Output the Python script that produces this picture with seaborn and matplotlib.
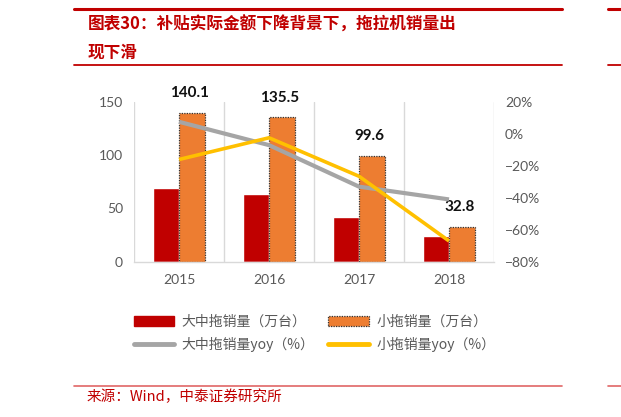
import numpy as np
import pandas as pd
import matplotlib
matplotlib.use("Agg")
import matplotlib.pyplot as plt
from matplotlib.patches import Patch
from matplotlib.lines import Line2D
from matplotlib.ticker import FixedLocator, PercentFormatter
import seaborn as sns

# data
years = ["2015", "2016", "2017", "2018"]
big_sales = [69.0, 63.5, 42.0, 24.5]        # 大中拖销量（万台）
small_sales = [140.1, 135.5, 99.6, 32.8]    # 小拖销量（万台）
big_yoy = [0.076, -0.07, -0.33, -0.41]      # 大中拖销量yoy
small_yoy = [-0.16, -0.024, -0.265, -0.67]  # 小拖销量yoy
series_names = ["大中拖销量（万台）", "小拖销量（万台）",
                "大中拖销量yoy（%）", "小拖销量yoy（%）"]

red = "#C00000"
orange = "#ED7D31"
gray = "#A5A5A5"
yellow = "#FFC000"
txt_gray = "#595959"
title_red = "#C00000"

sns.set_theme(style="white")
plt.rcParams["font.family"] = ["Noto Sans CJK SC", "DejaVu Sans"]

df = pd.DataFrame({
    "year": years * 2,
    "value": big_sales + small_sales,
    "series": [series_names[0]] * len(years) + [series_names[1]] * len(years),
})

fig = plt.figure(figsize=(6.21, 4.17), dpi=100)
ax = fig.add_axes([0.2158, 0.3724, 0.5797, 0.383])

sns.barplot(data=df, x="year", y="value", hue="series", order=years,
            hue_order=series_names[:2], palette=[red, orange], width=0.58,
            saturation=1, legend=False, ax=ax, zorder=2)

# dotted outline on the small-tractor bars
for bar in ax.containers[1]:
    bar.set_edgecolor("#333333")
    bar.set_linestyle((0, (1, 1)))
    bar.set_linewidth(0.9)

# value labels above the orange bars
for bar, v in zip(ax.containers[1], small_sales):
    ax.annotate(f"{v:.1f}", (bar.get_x() + bar.get_width() / 2, v),
                xytext=(-2, 14), textcoords="offset points", ha="center",
                va="center", fontsize=11, fontweight="bold", color="#111111",
                family=["Lato", "DejaVu Sans"], zorder=10)

ax.set_ylim(0, 150)
ax.set_yticks([0, 50, 100, 150])
ax.set_xlim(-0.5, len(years) - 0.5)
ax.set_xlabel("")
ax.set_ylabel("")
ax.xaxis.set_minor_locator(FixedLocator(np.arange(len(years) + 1) - 0.5))
ax.grid(which="minor", axis="x", color="#D9D9D9", linewidth=1)
ax.grid(which="major", visible=False)
ax.tick_params(axis="both", which="both", length=0)
ax.tick_params(axis="y", pad=8, labelsize=10, labelcolor=txt_gray)
ax.tick_params(axis="x", pad=9, labelsize=10, labelcolor=txt_gray)
for lab in ax.get_xticklabels() + ax.get_yticklabels():
    lab.set_family(["Lato", "DejaVu Sans"])
for s in ["left", "right", "top"]:
    ax.spines[s].set_visible(False)
ax.spines["bottom"].set_color("#D9D9D9")
ax.spines["bottom"].set_linewidth(1)

# yoy lines on the right axis
ax2 = ax.twinx()
xpos = np.arange(len(years))
sns.lineplot(x=xpos, y=big_yoy, ax=ax2, color=gray, linewidth=3,
             legend=False, solid_capstyle="butt")
sns.lineplot(x=xpos, y=small_yoy, ax=ax2, color=yellow, linewidth=2.6,
             legend=False, solid_capstyle="butt")
ax2.set_ylim(-0.8, 0.2)
ax2.set_yticks([-0.8, -0.6, -0.4, -0.2, 0.0, 0.2])
ax2.yaxis.set_major_formatter(PercentFormatter(1.0, decimals=0))
ax2.tick_params(axis="y", length=0, pad=8, labelsize=10, labelcolor=txt_gray)
for lab in ax2.get_yticklabels():
    lab.set_family(["Lato", "DejaVu Sans"])
ax2.grid(False)
for s in ax2.spines.values():
    s.set_visible(False)
ax2.set_xlim(-0.5, len(years) - 0.5)

# legend below the chart
handles = [
    Patch(facecolor=red, edgecolor=red),
    Line2D([], [], color=gray, linewidth=3.5, solid_capstyle="round"),
    Patch(facecolor=orange, edgecolor="#333333", linestyle=(0, (1, 1)), linewidth=0.9),
    Line2D([], [], color=yellow, linewidth=3.5, solid_capstyle="round"),
]
labels = [series_names[0], series_names[2], series_names[1], series_names[3]]
leg = fig.legend(handles, labels, ncol=2, loc="center left",
                 bbox_to_anchor=(0.195, 0.201), frameon=False,
                 fontsize=10, handlelength=2.9, handleheight=0.75,
                 handletextpad=0.55, columnspacing=1.0, labelspacing=0.55,
                 labelcolor=txt_gray)

# title block with red rules
fig.add_artist(Line2D([74 / 621, 562 / 621], [1 - 8.7 / 417] * 2,
                      color=title_red, linewidth=2.2))
fig.add_artist(Line2D([74 / 621, 562 / 621], [1 - 65 / 417] * 2,
                      color=title_red, linewidth=1.3))
fig.add_artist(Line2D([608 / 621, 1.0], [1 - 8.7 / 417] * 2,
                      color=title_red, linewidth=2.2))
fig.add_artist(Line2D([608 / 621, 1.0], [1 - 65 / 417] * 2,
                      color=title_red, linewidth=1.3))
fig.text(88 / 621, 1 - 25 / 417, "图表30：补贴实际金额下降背景下，拖拉机销量出",
         fontsize=12, fontweight="bold", color=title_red, va="center", ha="left")
fig.text(88 / 621, 1 - 53 / 417, "现下滑",
         fontsize=12, fontweight="bold", color=title_red, va="center", ha="left")

# source line
fig.add_artist(Line2D([74 / 621, 562 / 621], [1 - 385.5 / 417] * 2,
                      color="#E06666", linewidth=1.2))
fig.add_artist(Line2D([608 / 621, 1.0], [1 - 385.5 / 417] * 2,
                      color="#E06666", linewidth=1.2))
fig.text(87 / 621, 1 - 397 / 417, "来源：Wind，中泰证券研究所",
         fontsize=10.5, color="#C00000", va="center", ha="left")

fig.savefig("out.png", dpi=100)
